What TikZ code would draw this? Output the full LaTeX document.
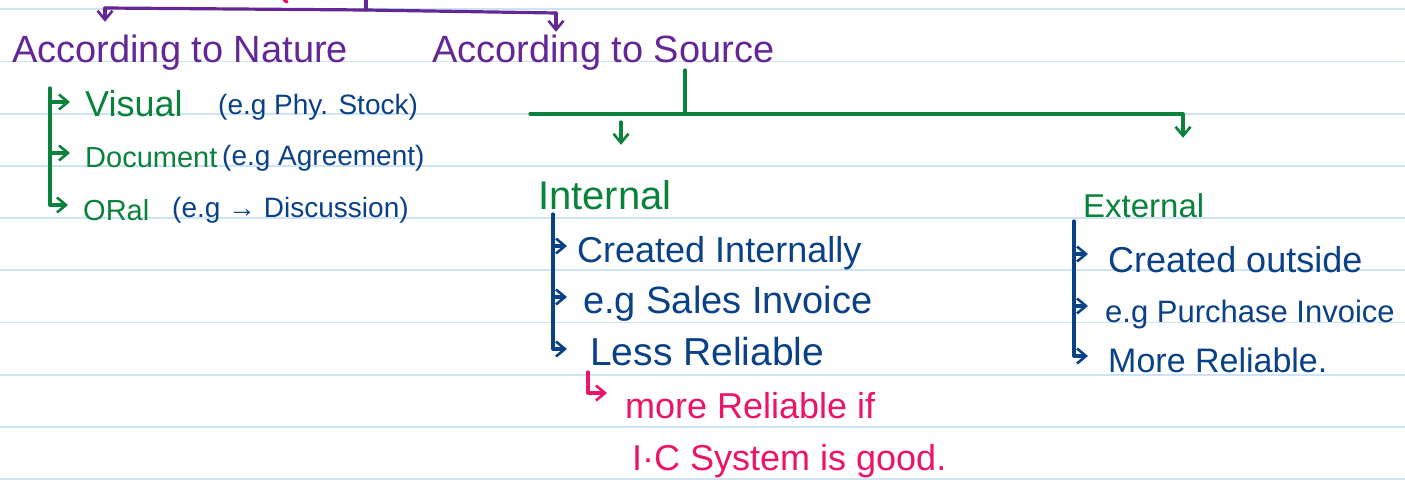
\documentclass[tikz,border=0pt]{standalone}
\usepackage{fontspec}
\setmainfont{Liberation Sans}
\usepackage{xcolor}
\definecolor{plum}{RGB}{100, 40, 150}
\definecolor{leaf}{RGB}{10, 130, 60}
\definecolor{ink}{RGB}{10, 65, 135}
\definecolor{rose}{RGB}{235, 20, 105}
\definecolor{ruling}{RGB}{205, 228, 246}
\usepackage{tikz}
\usetikzlibrary{arrows.meta}

\begin{document}
\begin{tikzpicture}[x=1pt, y=-1pt,
  hand/.style={inner sep=0pt, anchor=base west, text depth=0pt},
  heading/.style={hand, text=plum, text height=34pt, font=\fontsize{38}{38}\selectfont},
  kind/.style={hand, text=leaf, text height=30pt, font=\fontsize{29}{29}\selectfont},
  example/.style={hand, text=ink, text height=26pt, font=\fontsize{28}{28}\selectfont},
  point/.style={hand, text=ink, text height=32pt, font=\fontsize{36}{36}\selectfont},
  remark/.style={hand, text=rose, text height=32pt, font=\fontsize{36}{36}\selectfont},
  pen/.style={line width=3.2pt, line cap=round, line join=round},
  arrowline/.style={pen, -{Straight Barb[length=9pt,width=15pt,line width=2.6pt]}},
  ruled/.style={line width=1.8pt, ruling}
]
  \fill[white] (0,0) rectangle (1405,497);
  \useasboundingbox (0,0) rectangle (1405,497);
  \foreach \ly in {0,...,9}
    \draw[ruled] (0,{9.3+52.2*\ly}) -- (1405,{9.3+52.2*\ly});

  \node[heading] (nature) at (12,63) {According to Nature};
  \node[heading] (source) at (432,63) {According to Source};

  \node[kind, font=\fontsize{36}{36}\selectfont] (visual) at (85,117) {Visual};
  \node[example] (visualEg) at (218,115) {(e.g Phy. Stock)};
  \node[kind] (document) at (85,168) {Document};
  \node[example] (documentEg) at (222,166) {(e.g Agreement)};
  \node[kind] (oral) at (83,220) {ORal};
  \node[example] (oralEg) at (172,218) {(e.g → Discussion)};

  \node[kind, text height=36pt, font=\fontsize{40}{40}\selectfont] (internal) at (538,210) {Internal};
  \node[kind, font=\fontsize{33}{33}\selectfont] (external) at (1083,218) {External};

  \node[point] (intA) at (577,262) {Created Internally};
  \node[point, font=\fontsize{38}{38}\selectfont] (intB) at (583,313) {e.g Sales Invoice};
  \node[point, font=\fontsize{39}{39}\selectfont] (intC) at (590,365) {Less Reliable};
  \node[point, text height=36pt] (extA) at (1108,272) {Created outside};
  \node[point, font=\fontsize{31}{31}\selectfont] (extB) at (1105,322) {e.g Purchase Invoice};
  \node[point, font=\fontsize{34}{34}\selectfont] (extC) at (1108,372) {More Reliable.};

  \node[remark] (ifA) at (625,418) {more Reliable if};
  \node[remark] (ifB) at (632,470) {I·C System is good.};

  \coordinate (split) at (366,0);
  \coordinate (splitFoot) at (366,10);
  \coordinate (natEnd) at (105,8);
  \coordinate (srcEnd) at (556,13);
  \draw[pen, rose] (284,0) -- (287,2);
  \draw[pen, plum] (split) -- (splitFoot);
  \draw[pen, plum] (natEnd) -- (splitFoot) -- (srcEnd);
  \draw[arrowline, plum, shorten >=7pt] (natEnd) -- (natEnd |- nature.north);
  \draw[arrowline, plum, shorten >=-3pt] (srcEnd) -- (srcEnd |- source.north);

  \coordinate (natTrunk) at (50,88);
  \draw[pen, leaf] (natTrunk) -- (natTrunk |- oral.west);
  \foreach \k in {visual, document, oral}
    \draw[arrowline, leaf, shorten >=15pt] (natTrunk |- \k.west) -- (\k.west);

  \coordinate (srcTrunk) at (685,70);
  \coordinate (branchL) at (530,114);
  \coordinate (branchR) at (1183,114);
  \coordinate (intArrow) at (621,122);
  \draw[pen, leaf] (srcTrunk) -- (srcTrunk |- branchL);
  \draw[pen, leaf] (branchL) -- (branchR);
  \draw[arrowline, leaf, shorten >=29pt] (intArrow) -- (intArrow |- internal.north);
  \draw[arrowline, leaf, shorten >=50pt] (branchR) -- (branchR |- external.north);

  \coordinate (intTrunk) at (553,214);
  \draw[pen, ink] (intTrunk) -- (intTrunk |- intC.west);
  \draw[arrowline, ink, shorten >=10pt] (intTrunk |- intA.west) -- (intA.west);
  \draw[arrowline, ink, shorten >=16pt] (intTrunk |- intB.west) -- (intB.west);
  \draw[arrowline, ink, shorten >=23pt] (intTrunk |- intC.west) -- (intC.west);

  \coordinate (extTrunk) at (1074,221);
  \draw[pen, ink] (extTrunk) -- (extTrunk |- extC.west);
  \draw[arrowline, ink, shorten >=20pt] (extTrunk |- extA.west) -- (extA.west);
  \draw[arrowline, ink, shorten >=17pt] (extTrunk |- extB.west) -- (extB.west);
  \draw[arrowline, ink, shorten >=20pt] (extTrunk |- extC.west) -- (extC.west);

  \coordinate (hook) at (588,372);
  \draw[arrowline, rose, shorten >=18pt] (hook) |- ([yshift=9pt]ifA.west);
\end{tikzpicture}
\end{document}
